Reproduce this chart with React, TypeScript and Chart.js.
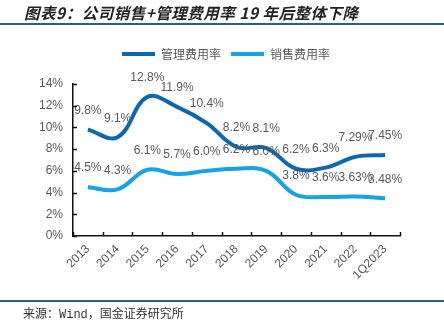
import React, { useEffect, useRef } from 'react';
import { Chart, registerables } from 'chart.js';

Chart.register(...registerables);

const categories = ['2013', '2014', '2015', '2016', '2017', '2018', '2019', '2020', '2021', '2022', '1Q2023'];
const mgmtRate = [9.8, 9.1, 12.8, 11.9, 10.4, 8.2, 8.1, 6.2, 6.3, 7.29, 7.45];
const salesRate = [4.5, 4.3, 6.1, 5.7, 6.0, 6.2, 6.0, 3.8, 3.6, 3.63, 3.48];
const seriesNames = ['管理费用率', '销售费用率'];
const yMin = 0;
const yMax = 14;
const yStep = 2;

const DARK = '#0B67B0';
const LIGHT = '#14A3E6';
const TEXT = '#595959';
const FONT = "'Liberation Sans', Arial, 'Noto Sans CJK SC', sans-serif";

const fmt = (v: number) => {
  const r = Math.round(v * 100);
  return (r % 10 === 0 ? v.toFixed(1) : v.toFixed(2)) + '%';
};

const legendSpacing = {
  id: 'legendSpacing',
  beforeInit(chart: any) {
    const legend = chart.legend;
    if (!legend) return;
    const orig = legend.fit;
    legend.fit = function () {
      orig.call(this);
      this.height += 14;
    };
  },
  afterLayout(chart: any) {
    const legend = chart.legend;
    if (!legend) return;
    legend.left += 26;
    legend.right += 26;
  },
};

const innerTicks = {
  id: 'innerTicks',
  afterDraw(chart: any) {
    const ctx = chart.ctx;
    const ys = chart.scales.y;
    const area = chart.chartArea;
    ctx.save();
    ctx.strokeStyle = '#111';
    ctx.lineWidth = 1.5;
    ctx.beginPath();
    ys.ticks.forEach((t: any) => {
      const y = Math.round(ys.getPixelForValue(t.value)) + 0.5;
      ctx.moveTo(area.left, y);
      ctx.lineTo(area.left + 4, y);
    });
    const n = categories.length;
    const w = (area.right - area.left) / n;
    for (let k = 0; k <= n; k++) {
      const x = Math.round(area.left + k * w) + 0.5;
      ctx.moveTo(x, area.bottom);
      ctx.lineTo(x, area.bottom - 4);
    }
    ctx.stroke();
    ctx.restore();
  },
};

const dataLabels = {
  id: 'dataLabels',
  afterDatasetsDraw(chart: any) {
    const ctx = chart.ctx;
    ctx.save();
    ctx.font = `12px ${FONT}`;
    ctx.fillStyle = TEXT;
    ctx.textAlign = 'center';
    ctx.textBaseline = 'middle';
    chart.data.datasets.forEach((ds: any, di: number) => {
      const meta = chart.getDatasetMeta(di);
      meta.data.forEach((pt: any, i: number) => {
        ctx.fillText(fmt(ds.data[i]), pt.x, pt.y - 19);
      });
    });
    ctx.restore();
  },
};

function LineChart() {
  const ref = useRef<HTMLCanvasElement | null>(null);
  useEffect(() => {
    if (!ref.current) return;
    const chart = new Chart(ref.current, {
      type: 'line',
      data: {
        labels: categories,
        datasets: [
          {
            label: seriesNames[0],
            data: mgmtRate,
            borderColor: DARK,
            backgroundColor: DARK,
            borderWidth: 4,
            pointRadius: 0,
            tension: 0.4,
            fill: false,
          },
          {
            label: seriesNames[1],
            data: salesRate,
            borderColor: LIGHT,
            backgroundColor: LIGHT,
            borderWidth: 4,
            pointRadius: 0,
            tension: 0.4,
            fill: false,
          },
        ],
      },
      options: {
        responsive: false,
        animation: false,
        devicePixelRatio: 1,
        layout: { padding: { left: 0, right: 44, top: 38, bottom: 0 } },
        plugins: {
          legend: {
            position: 'top',
            labels: {
              usePointStyle: true,
              pointStyle: 'line',
              pointStyleWidth: 33,
              font: { size: 12, family: "'Noto Sans CJK SC', sans-serif" },
              color: TEXT,
              padding: 10,
            },
          },
          tooltip: { enabled: false },
        },
        scales: {
          x: {
            type: 'category',
            offset: true,
            grid: { display: false, drawTicks: false },
            border: { display: true, color: '#111', width: 1.5 },
            ticks: {
              minRotation: 45,
              maxRotation: 45,
              autoSkip: false,
              padding: 6,
              color: TEXT,
              font: { size: 12, family: FONT },
            },
            afterFit: (s: any) => {
              s.height = 91;
            },
          },
          y: {
            min: yMin,
            max: yMax,
            grid: { display: false, drawTicks: false },
            border: { display: true, color: '#111', width: 1.5 },
            ticks: {
              stepSize: yStep,
              padding: 10,
              color: TEXT,
              font: { size: 12, family: FONT },
              callback: (v: any) => v + '%',
            },
            afterFit: (s: any) => {
              s.width = 73;
            },
          },
        },
      },
      plugins: [legendSpacing, innerTicks, dataLabels],
    } as any);
    return () => chart.destroy();
  }, []);
  return <canvas ref={ref} width={444} height={327} style={{ position: 'absolute', left: 0, top: 0 }} />;
}

export default function App() {
  return (
    <div style={{ position: 'relative', width: 444, height: 327, background: '#fff', overflow: 'hidden' }}>
      <style>{'body{margin:0;}'}</style>
      <LineChart />
      <div
        style={{
          position: 'absolute',
          left: 24,
          top: 2,
          fontFamily: "'Noto Sans CJK SC', sans-serif",
          fontStyle: 'italic',
          fontWeight: 700,
          fontSize: 15.5,
          letterSpacing: 0.5,
          color: '#222',
          whiteSpace: 'nowrap',
          lineHeight: '20px',
        }}
      >
        图表9：公司销售+管理费用率 19 年后整体下降
      </div>
      <div style={{ position: 'absolute', left: 0, top: 23, width: 444, height: 2, background: '#2A5E8C' }} />
      <div style={{ position: 'absolute', left: 0, top: 300, width: 444, height: 2, background: '#2A5E8C' }} />
      <div
        style={{
          position: 'absolute',
          left: 23,
          top: 307,
          fontFamily: "'Liberation Mono', 'Noto Sans CJK SC', monospace",
          fontSize: 12,
          color: '#333',
          whiteSpace: 'nowrap',
          lineHeight: '16px',
        }}
      >
        来源：Wind，国金证券研究所
      </div>
    </div>
  );
}
